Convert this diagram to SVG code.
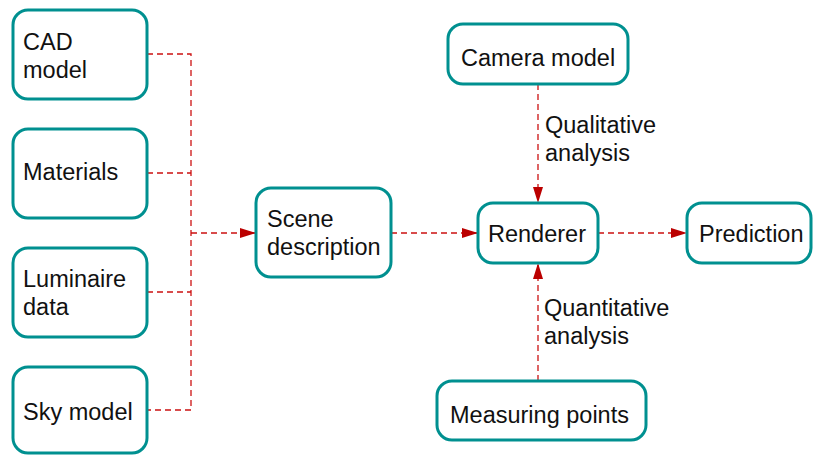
<svg xmlns="http://www.w3.org/2000/svg" width="813" height="455" viewBox="0 0 813 455">
<defs>
<style>
.box{fill:#fff;stroke:#009090;stroke-width:3}
.t{font-family:"Liberation Sans",Arial,sans-serif;font-size:23.5px;fill:#111}
.c{fill:none;stroke:#cc1111;stroke-width:1.3;stroke-dasharray:6 4}
</style>
<marker id="ah" viewBox="0 0 16 10" refX="16" refY="5" markerWidth="16" markerHeight="10" markerUnits="userSpaceOnUse" orient="auto">
<path d="M0,0 L16,5 L0,10 Z" fill="#bb0000"/>
</marker>
</defs>
<rect width="813" height="455" fill="#fff"/>
<g id="connectors">
<path class="c" d="M147,54 H191 V410 H147"/>
<path class="c" d="M147,173 H191"/>
<path class="c" d="M147,292 H191"/>
<path class="c" d="M191,233 H256" marker-end="url(#ah)"/>
<path class="c" d="M391,233 H478" marker-end="url(#ah)"/>
<path class="c" d="M598,233 H687" marker-end="url(#ah)"/>
<path class="c" d="M538,84 V203" marker-end="url(#ah)"/>
<path class="c" d="M538,381 V263" marker-end="url(#ah)"/>
<text class="t" x="545" y="133">Qualitative</text>
<text class="t" x="545" y="161">analysis</text>
<text class="t" x="544" y="316">Quantitative</text>
<text class="t" x="544" y="344">analysis</text>
</g>
<g id="cad"><rect class="box" x="13" y="10" width="134" height="89" rx="15"/><text class="t" x="23" y="50">CAD</text><text class="t" x="23" y="78">model</text></g>
<g id="materials"><rect class="box" x="13" y="129" width="134" height="89" rx="15"/><text class="t" x="23" y="180">Materials</text></g>
<g id="luminaire"><rect class="box" x="13" y="248" width="134" height="89" rx="15"/><text class="t" x="23" y="287">Luminaire</text><text class="t" x="23" y="315">data</text></g>
<g id="sky"><rect class="box" x="13" y="367" width="134" height="86" rx="15"/><text class="t" x="23" y="420">Sky model</text></g>
<g id="scene"><rect class="box" x="256" y="188" width="135" height="89" rx="15"/><text class="t" x="267" y="227">Scene</text><text class="t" x="267" y="255">description</text></g>
<g id="camera"><rect class="box" x="448" y="24" width="180" height="60" rx="15"/><text class="t" x="461" y="66">Camera model</text></g>
<g id="renderer"><rect class="box" x="478" y="203" width="120" height="60" rx="15"/><text class="t" x="488" y="242">Renderer</text></g>
<g id="prediction"><rect class="box" x="687" y="203" width="124" height="60" rx="15"/><text class="t" x="699" y="242">Prediction</text></g>
<g id="measuring"><rect class="box" x="437" y="381" width="209" height="59" rx="15"/><text class="t" x="450" y="423">Measuring points</text></g>
</svg>
